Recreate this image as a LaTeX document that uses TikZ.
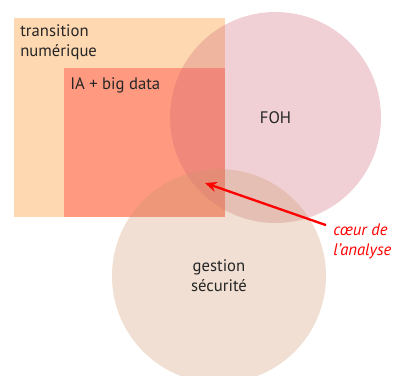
\documentclass[tikz,border=0pt]{standalone}
\usepackage{fontspec}
\setmainfont{PT Sans}
\usetikzlibrary{arrows.meta}

\definecolor{numcol}{RGB}{254,216,177}
\definecolor{iacol}{RGB}{255,154,128}
\definecolor{fohcol}{RGB}{206,101,115}
\definecolor{gescol}{RGB}{205,148,105}

\tikzset{
  zonetext/.style={inner sep=0pt, text=black!85, align=left},
  circtext/.style={inner sep=0pt, text=black!85, align=center},
  notetext/.style={inner sep=0pt, text=red, align=left, font=\itshape},
  notearrow/.style={-{Stealth[length=7pt,width=6pt]}, red, line width=1.4pt}
}

\begin{document}
\begin{tikzpicture}[x=0.6pt, y=-0.6pt]

	\useasboundingbox (0,0) rectangle (395,376);

	\fill[numcol] (14,18) rectangle (225,217); %transition numerique
	\fill[iacol] (64,68) rectangle (225,217); %IA + big data

	\fill[fohcol, opacity=.3] (275.5,117.5) circle[radius=105.5]; %FOH
	\fill[gescol, opacity=.3] (219,276) circle[radius=107]; %gestion securite

	\node[zonetext, anchor=north west] (num) at (20,24) {transition\\numérique};
	\node[zonetext, anchor=base west] (ia) at (70,89) {IA + big data};
	\node[circtext] (foh) at (275.5,117.5) {FOH};
	\node[circtext] (ges) at (219,276) {gestion\\sécurité};

	\coordinate (coeur) at (205,183);
	\node[notetext, anchor=west] (note) at (333,241) {cœur de\\l’analyse};
	\draw[notearrow] ([shift={(-7,2)}]note.north west) -- (coeur);

\end{tikzpicture}
\end{document}
